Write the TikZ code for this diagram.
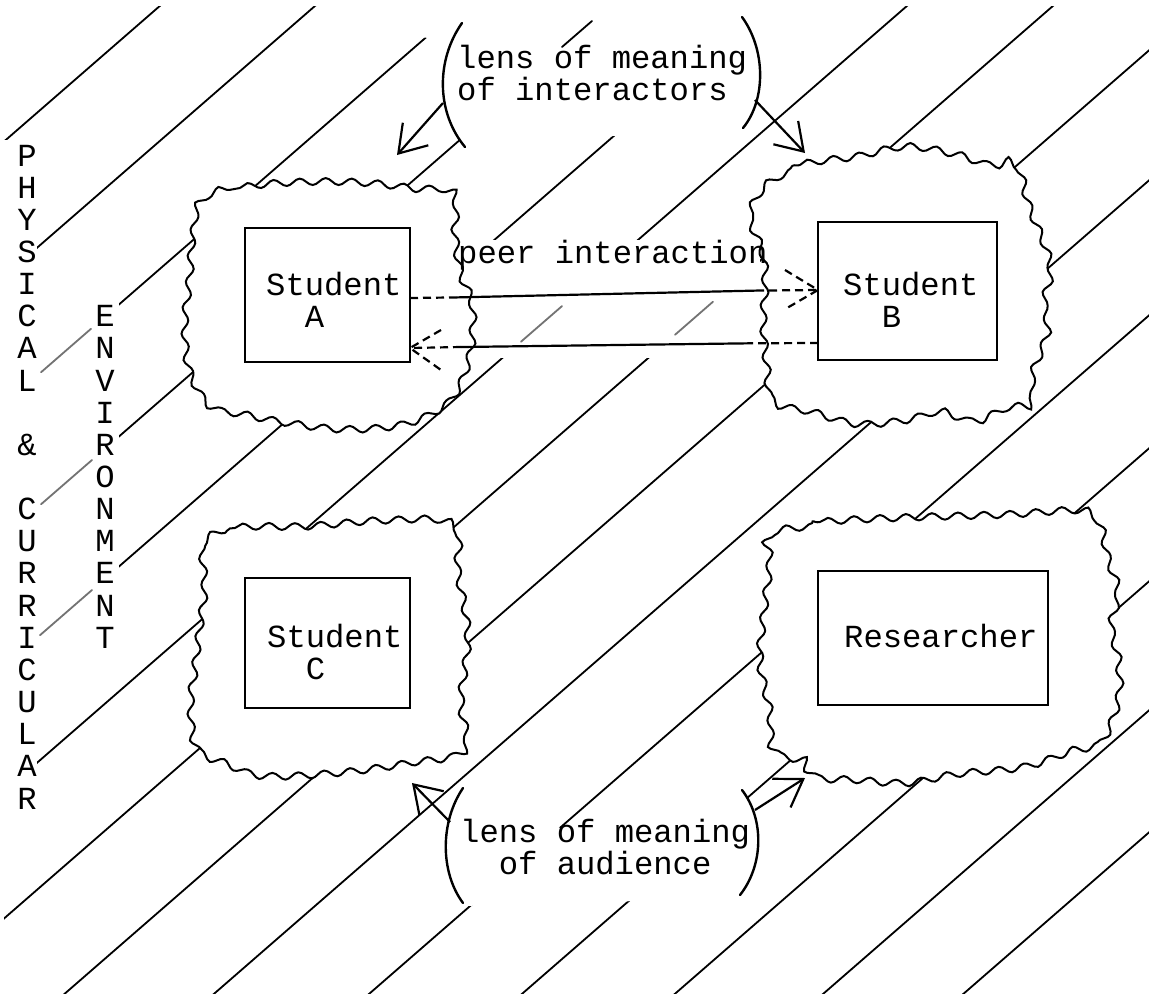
\documentclass[tikz,border=0pt]{standalone}
\usepackage{fontspec}
\newfontfamily\tw{Liberation Mono}
\usetikzlibrary{arrows.meta,decorations.pathmorphing,calc}
\begin{document}
\begin{tikzpicture}[x=1pt,y=-1pt,
  hatch/.style={line width=1.8pt, line cap=round},
  grayhatch/.style={line width=1.8pt, line cap=round, black!55},
  cover/.style={fill=white, draw=none},
  blob/.style={draw, fill=white, line width=2pt, decorate,
    decoration={snake, amplitude=3.4pt, segment length=26pt}},
  box/.style={draw, line width=2.2pt, inner sep=0pt, outer sep=0pt},
  txt/.style={font=\tw\fontsize{32.2}{32.2}\selectfont, inner sep=0pt},
  paren/.style={line width=2.4pt, line cap=round},
  lensarrow/.style={line width=2.2pt, -{Straight Barb[length=26pt,width=34pt]}},
  peer/.style={line width=2.2pt},
  peerdash/.style={line width=2.2pt, dash pattern=on 8pt off 5pt},
]
\useasboundingbox (0,0) rectangle (1149,996);
\fill[white] (0,0) rectangle (1149,996);

% hatching
\begin{scope}
\clip (4,6) rectangle (1149,993);
\foreach \c in {145,280,408,540,670,795,922,1050,1180,1315,1448,1581,1710,1832}
  \draw[hatch] (-20,{\c+0.87*20}) -- (1170,{\c-0.87*1170});
\end{scope}

% covers
\path[cover] (418,0) -- (418,37) -- (452,40) -- (443,83) -- (447,120) -- (463,143)
  -- (600,137) -- (743,126) -- (755,100) -- (758,70) -- (754,40) -- (765,10) -- (790,0) -- cycle;
\path[cover] (466,779) -- (560,828) -- (640,828) -- (744,791) -- (754,812) -- (758,837)
  -- (754,868) -- (741,898) -- (463,906) -- (447,875) -- (444,840) -- (449,808) -- (459,790) -- cycle;
\path[cover] (0,140) rectangle (37,812);
\path[cover] (93,298) rectangle (119,652);
\path[cover] (37,300) rectangle (93,660);
\path[cover] (455,240) rectangle (760,358);

% gray remnants
\draw[grayhatch] (41,372.3) -- (91,328.8);
\draw[grayhatch] (41,504.3) -- (92,460);
\draw[grayhatch] (40,635.2) -- (92,590);
\draw[grayhatch] (521,341.7) -- (562,306.1);
\draw[grayhatch] (675,334.8) -- (713,301.7);
\draw[hatch] (562,47) -- (592,21);

% blobs
\draw[blob] plot[smooth cycle, tension=0.6] coordinates {
  (198,203) (240,188) (300,183) (360,184) (410,190) (448,195) (450,240) (456,278)
  (467,305) (468,335) (465,360) (455,390) (440,410) (400,428) (340,433) (280,426)
  (240,418) (207,410) (186,375) (181,330) (186,280) (189,240)};
\draw[blob] plot[smooth cycle, tension=0.6] coordinates {
  (762,180) (800,165) (850,158) (900,148) (950,156) (985,167) (1012,163) (1025,205)
  (1046,262) (1040,300) (1043,330) (1028,372) (1027,400) (1000,404) (967,418) (933,408)
  (900,416) (850,420) (805,408) (766,398) (760,367) (756,320) (758,280) (755,248) (743,212)};
\draw[blob] plot[smooth cycle, tension=0.6] coordinates {
  (200,540) (235,528) (300,527) (380,521) (447,525) (452,572) (462,635) (455,700)
  (458,750) (403,763) (330,773) (256,776) (220,764) (190,749) (184,706) (188,671)
  (193,630) (198,590) (196,557)};
\draw[blob] plot[smooth cycle, tension=0.6] coordinates {
  (762,530) (820,522) (900,518) (1000,515) (1077,511) (1092,525) (1100,560) (1110,593)
  (1103,627) (1110,660) (1110,700) (1093,743) (1067,750) (1017,767) (950,774) (900,783)
  (850,780) (807,777) (800,760) (767,750) (763,710) (753,660) (757,610) (763,560)};

% boxes
\node[box, minimum width=165pt, minimum height=134pt] (boxA) at (327.5,295) {};
\node[box, minimum width=179pt, minimum height=138pt] (boxB) at (907.5,291) {};
\node[box, minimum width=165pt, minimum height=130pt] (boxC) at (327.5,643) {};
\node[box, minimum width=230pt, minimum height=134pt] (boxR) at (933,638) {};

% texts
\node[txt, anchor=base west] (tA1) at (266,295) {Student};
\node[txt, anchor=base west] (tA2) at (304.6,327) {A};
\node[txt, anchor=base west] (tB1) at (843,295) {Student};
\node[txt, anchor=base west] (tB2) at (881.6,327) {B};
\node[txt, anchor=base west] (tC1) at (267,647) {Student};
\node[txt, anchor=base west] (tC2) at (305.6,679) {C};
\node[txt, anchor=base west] (tR) at (844,647) {Researcher};
\node[txt, anchor=base west] (peer) at (458,263) {peer interaction};
\node[txt, anchor=base west] (lensI1) at (457,68) {lens of meaning};
\node[txt, anchor=base west] (lensI2) at (457,100) {of interactors};
\node[txt, anchor=base west] (lensA1) at (460,842) {lens of meaning};
\node[txt, anchor=base west] (lensA2) at (498.6,874) {of audience};

\foreach \r/\ch in {0/P,1/H,2/Y,3/S,4/I,5/C,6/A,7/L,9/\&,11/C,12/U,13/R,14/R,15/I,16/C,17/U,18/L,19/A,20/R}
  \node[txt,anchor=base] (pc\r) at (27,{166+32.15*\r}) {\ch};
\foreach \r/\ch in {5/E,6/N,7/V,8/I,9/R,10/O,11/N,12/M,13/E,14/N,15/T}
  \node[txt,anchor=base] (ec\r) at (105,{166+32.15*\r}) {\ch};

% lens brackets
\draw[paren] (462,23) .. controls (436,60) and (436,112) .. (465,147);
\draw[paren] (742,17) .. controls (766,50) and (766,100) .. (743,128);
\draw[paren] (463,788) .. controls (440,822) and (440,872) .. (463,903);
\draw[paren] (742,790) .. controls (765,820) and (763,866) .. (740,895);

\coordinate (pTL) at (443,103);
\coordinate (pTR) at (755,100);
\coordinate (pBL) at (450,822);
\coordinate (pBR) at (755,810);
\coordinate (aTL) at (397,155);
\coordinate (aTR) at (805,153);
\coordinate (aBL) at (412,783);
\coordinate (aBR) at (805,778);
\draw[lensarrow] (pTL) -- (aTL);
\draw[lensarrow] (pTR) -- (aTR);
\draw[lensarrow] (pBL) -- (aBL);
\draw[lensarrow] (pBR) -- (aBR);

% peer interaction arrows
\coordinate (sA) at (boxA.east |- 0,298);
\coordinate (mA) at (457,297.4);
\coordinate (mB) at (756,290.6);
\coordinate (tipB) at (boxB.west |- 0,290);
\draw[peerdash] (sA) -- (mA);
\draw[peer] (mA) -- (mB);
\draw[peerdash] (mB) -- (tipB);
\draw[peerdash] ($(tipB)+(-33,-20)$) -- (tipB) -- ($(tipB)+(-31,18)$);

\coordinate (sB) at (boxB.west |- 0,343);
\coordinate (nB) at (751,343.3);
\coordinate (nA) at (461,347);
\coordinate (tipA) at (boxA.east |- 0,348);
\draw[peerdash] (sB) -- (nB);
\draw[peer] (nB) -- (nA);
\draw[peerdash] (nA) -- (tipA);
\draw[peerdash] ($(tipA)+(31,-18)$) -- (tipA) -- ($(tipA)+(31,22)$);
\end{tikzpicture}
\end{document}
